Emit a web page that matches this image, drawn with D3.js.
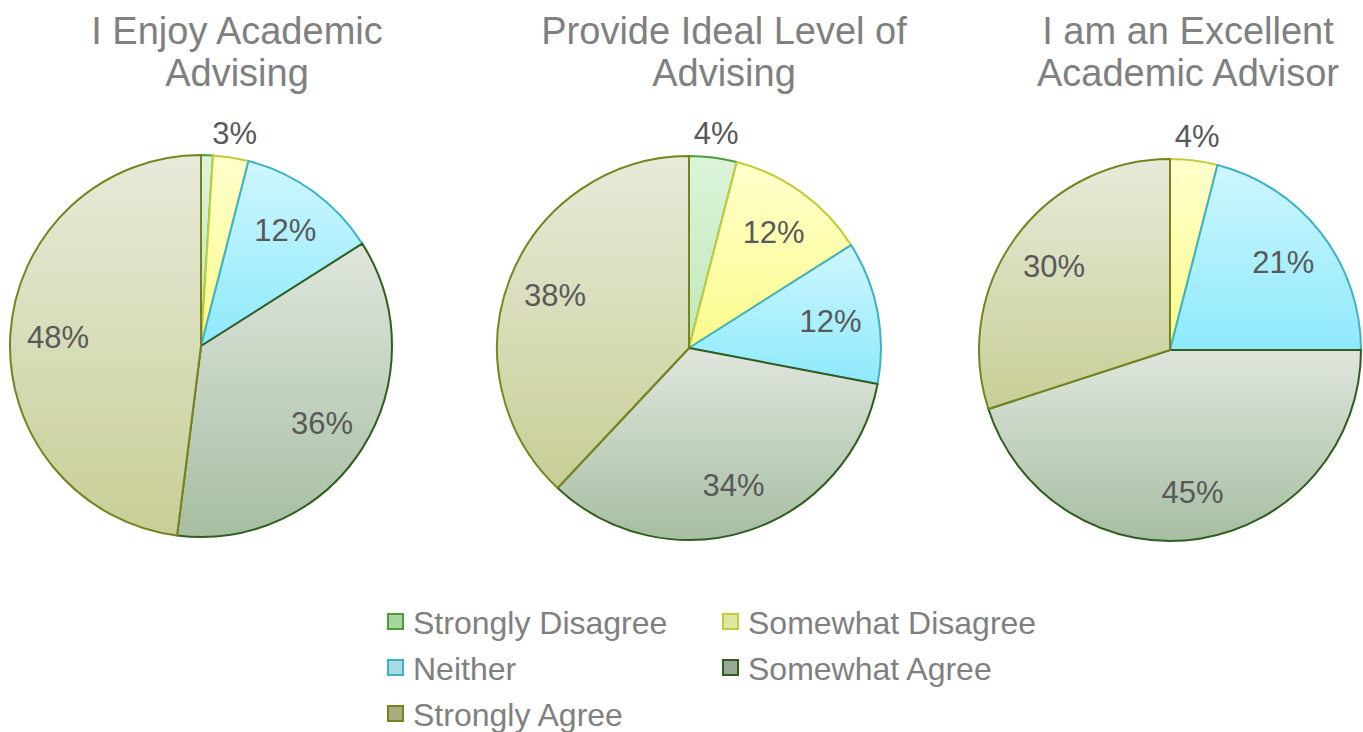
<!DOCTYPE html>
<html>
<head>
<meta charset="utf-8">
<script src="https://cdn.jsdelivr.net/npm/d3@7"></script>
<style>
  html, body { margin: 0; padding: 0; background: #ffffff; }
  svg { display: block; }
  text { font-family: "Liberation Sans", Arial, sans-serif; }
</style>
</head>
<body>
<svg id="chart" width="1363" height="732"></svg>
<script>
// Response categories (legend order)
const categories = ["Strongly Disagree", "Somewhat Disagree", "Neither", "Somewhat Agree", "Strongly Agree"];

// Survey questions, one pie each (title split over two lines)
const titles = [
  ["I Enjoy Academic", "Advising"],
  ["Provide Ideal Level of", "Advising"],
  ["I am an Excellent", "Academic Advisor"]
];

// Percent of respondents per category, per question
const enjoyAdvising    = [1, 3, 12, 36, 48];
const idealLevel       = [4, 12, 12, 34, 38];
const excellentAdvisor = [0, 4, 21, 45, 30];
const seriesValues = [enjoyAdvising, idealLevel, excellentAdvisor];

// Slice styling per category: gradient top/bottom, outline, legend swatch
const gradTop    = ["#dcf4da", "#ffffcc", "#cef7fe", "#e0e6dd", "#e8eada"];
const gradBottom = ["#bfe8b8", "#fbfb8c", "#8ee9fb", "#a6bea2", "#c8ce96"];
const strokes    = ["#4e9c3e", "#c2cc3a", "#3eb2c4", "#2f5e1f", "#76841e"];
const swatchFill = ["#a6d89e", "#dfe69e", "#a6dbe6", "#98aa96", "#a9ad7e"];

// Layout of the three pies
const pies = [
  { cx: 201, cy: 346, r: 191, titleX: 237 },
  { cx: 689, cy: 348, r: 192, titleX: 724 },
  { cx: 1170, cy: 350, r: 191, titleX: 1188 }
];

const svg = d3.select("#chart");
const defs = svg.append("defs");

categories.forEach((c, i) => {
  const g = defs.append("linearGradient")
    .attr("id", "grad" + i)
    .attr("x1", 0).attr("y1", 0).attr("x2", 0).attr("y2", 1);
  g.append("stop").attr("offset", "0%").attr("stop-color", gradTop[i]);
  g.append("stop").attr("offset", "100%").attr("stop-color", gradBottom[i]);
});

const pie = d3.pie().sort(null).value(d => d.value);

seriesValues.forEach((vals, k) => {
  const p = pies[k];
  const data = vals.map((v, i) => ({ value: v, idx: i }));
  const arcs = pie(data);
  const arc = d3.arc().innerRadius(0).outerRadius(p.r);
  const labelIn = d3.arc().innerRadius(p.r * 0.75).outerRadius(p.r * 0.75);
  const labelOut = d3.arc().innerRadius(p.r * 1.13).outerRadius(p.r * 1.13);

  const g = svg.append("g").attr("transform", `translate(${p.cx},${p.cy})`);

  g.selectAll("path.slice")
    .data(arcs.filter(a => a.data.value > 0))
    .enter().append("path")
    .attr("class", "slice")
    .attr("d", arc)
    .attr("fill", d => `url(#grad${d.data.idx})`)
    .attr("stroke", d => strokes[d.data.idx])
    .attr("stroke-width", 2)
    .attr("stroke-linejoin", "round");

  g.selectAll("text.lbl")
    .data(arcs.filter(a => a.data.value >= 2))
    .enter().append("text")
    .attr("class", "lbl")
    .attr("transform", d => {
      const c = (d.data.value < 5 ? labelOut : labelIn).centroid(d);
      return `translate(${c[0]},${c[1]})`;
    })
    .attr("text-anchor", "middle")
    .attr("dy", "0.36em")
    .attr("font-size", 31)
    .attr("fill", "#595959")
    .text(d => d.data.value + "%");

  // Title
  const t = svg.append("text")
    .attr("text-anchor", "middle")
    .attr("font-size", 38)
    .attr("fill", "#808080");
  titles[k].forEach((line, j) => {
    t.append("tspan")
      .attr("x", p.titleX)
      .attr("y", 44 + j * 42)
      .text(line);
  });
});

// Legend: two columns, three rows
const legendCols = [387, 722];
const legendRows = [622, 668, 714];
const legend = svg.append("g");
categories.forEach((c, i) => {
  const x = legendCols[i % 2];
  const y = legendRows[Math.floor(i / 2)];
  legend.append("rect")
    .attr("x", x + 1).attr("y", y - 8)
    .attr("width", 15).attr("height", 15)
    .attr("fill", swatchFill[i])
    .attr("stroke", strokes[i])
    .attr("stroke-width", 2);
  legend.append("text")
    .attr("x", x + 26).attr("y", y)
    .attr("dy", "0.36em")
    .attr("font-size", 32)
    .attr("fill", "#808080")
    .text(c);
});
</script>
</body>
</html>
